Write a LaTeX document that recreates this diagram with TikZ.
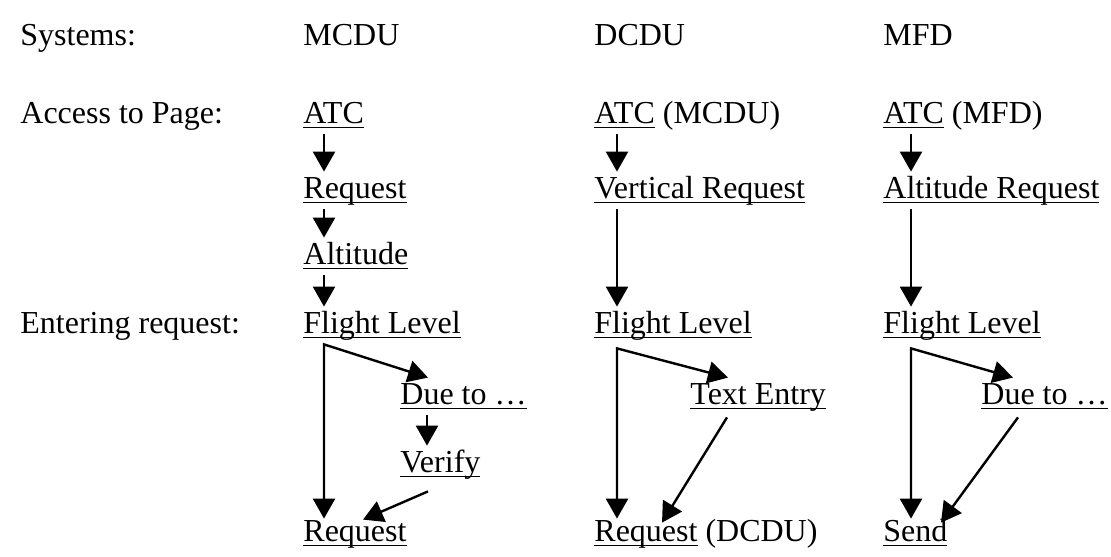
\documentclass[tikz,border=0pt]{standalone}
\usepackage{fontspec}
\setmainfont{Liberation Serif}
\usetikzlibrary{positioning,arrows.meta,calc}

\newsavebox{\undlbox}
\newcommand{\undl}[1]{\sbox\undlbox{#1}\rlap{\rule[-0.17em]{\wd\undlbox}{0.06em}}\usebox\undlbox}

\begin{document}
\begin{tikzpicture}[
    x=0.5pt, y=-0.5pt,
    font={\fontsize{16pt}{19pt}\selectfont},
    >={Triangle[length=10pt,width=11pt]},
    entry/.style={anchor=base west,inner sep=0pt,text height=13pt,text depth=5.5pt},
    flow/.style={->,line width=1.2pt},
    fork/.style={<->,line width=1.2pt},
]
    \useasboundingbox (0,0) rectangle (1111,556);

    % row heads
    \node[entry] (sys)  at (20,46)  {Systems:};
    \node[entry] (acc)  at (20,123) {Access to Page:};
    \node[entry] (ent)  at (20,333) {Entering request:};

    \node[entry] (mcdu) at (303,46) {MCDU};
    \node[entry] (dcdu) at (594,46) {DCDU};
    \node[entry] (mfd)  at (883,46) {MFD};

    % MCDU
    \node[entry] (atc1) at (303,123) {\undl{ATC}};
    \node[entry] (req1) at (303,198) {\undl{Request}};
    \node[entry] (alt1) at (303,264) {\undl{Altitude}};
    \node[entry] (fl1)  at (303,333) {\undl{Flight Level}};
    \node[entry] (due1) at (400,404) {\undl{Due to \dots}};
    \node[entry] (ver1) at (400,472) {\undl{Verify}};
    \node[entry] (snd1) at (303,541) {\undl{Request}};

    \draw[flow] ([xshift=10.5pt]atc1.south west) -- ([xshift=10.5pt]req1.north west);
    \draw[flow] ([xshift=10.5pt]req1.south west) -- ([xshift=10.5pt]alt1.north west);
    \draw[flow] ([xshift=10.5pt]alt1.south west) -- ([xshift=10.5pt]fl1.north west);
    \draw[fork] ([xshift=14pt]due1.north west) -- ([xshift=10.5pt]fl1.south west) -- ([xshift=10.5pt,yshift=-2pt]snd1.north west);
    \draw[flow] ([xshift=13.5pt]due1.south west) -- ([xshift=13.5pt]ver1.north west);
    \draw[flow] ([xshift=14pt,yshift=-4pt]ver1.south west) -- ([xshift=30pt,yshift=-2.5pt]snd1.north west);

    % DCDU
    \node[entry] (atc2) at (594,123) {\undl{ATC} (MCDU)};
    \node[entry] (vrt2) at (594,198) {\undl{Vertical Request}};
    \node[entry] (fl2)  at (594,333) {\undl{Flight Level}};
    \node[entry] (txt2) at (690,404) {\undl{Text Entry}};
    \node[entry] (req2) at (594,541) {\undl{Request} (DCDU)};

    \draw[flow] ([xshift=11.5pt]atc2.south west) -- ([xshift=11.5pt]vrt2.north west);
    \draw[flow] ([xshift=11.5pt]vrt2.south west) -- ([xshift=11.5pt]fl2.north west);
    \draw[fork] ([xshift=19pt]txt2.north west) -- ([xshift=11.5pt,yshift=-2pt]fl2.south west) -- ([xshift=11.5pt,yshift=-2pt]req2.north west);
    \draw[flow] ([xshift=18.5pt,yshift=-1pt]txt2.south west) -- ([xshift=34pt,yshift=-4pt]req2.north west);

    % MFD
    \node[entry] (atc3) at (883,123) {\undl{ATC} (MFD)};
    \node[entry] (alt3) at (883,198) {\undl{Altitude Request}};
    \node[entry] (fl3)  at (883,333) {\undl{Flight Level}};
    \node[entry] (due3) at (981,404) {\undl{Due to \dots}};
    \node[entry] (snd3) at (883,541) {\undl{Send}};

    \draw[flow] ([xshift=14pt]atc3.south west) -- ([xshift=14pt]alt3.north west);
    \draw[flow] ([xshift=14pt]alt3.south west) -- ([xshift=14pt]fl3.north west);
    \draw[fork] ([xshift=16pt]due3.north west) -- ([xshift=14pt,yshift=-2pt]fl3.south west) -- ([xshift=14pt,yshift=-2pt]snd3.north west);
    \draw[flow] ([xshift=18.5pt,yshift=-1pt]due3.south west) -- ([xshift=29pt,yshift=-4pt]snd3.north west);
\end{tikzpicture}
\end{document}
